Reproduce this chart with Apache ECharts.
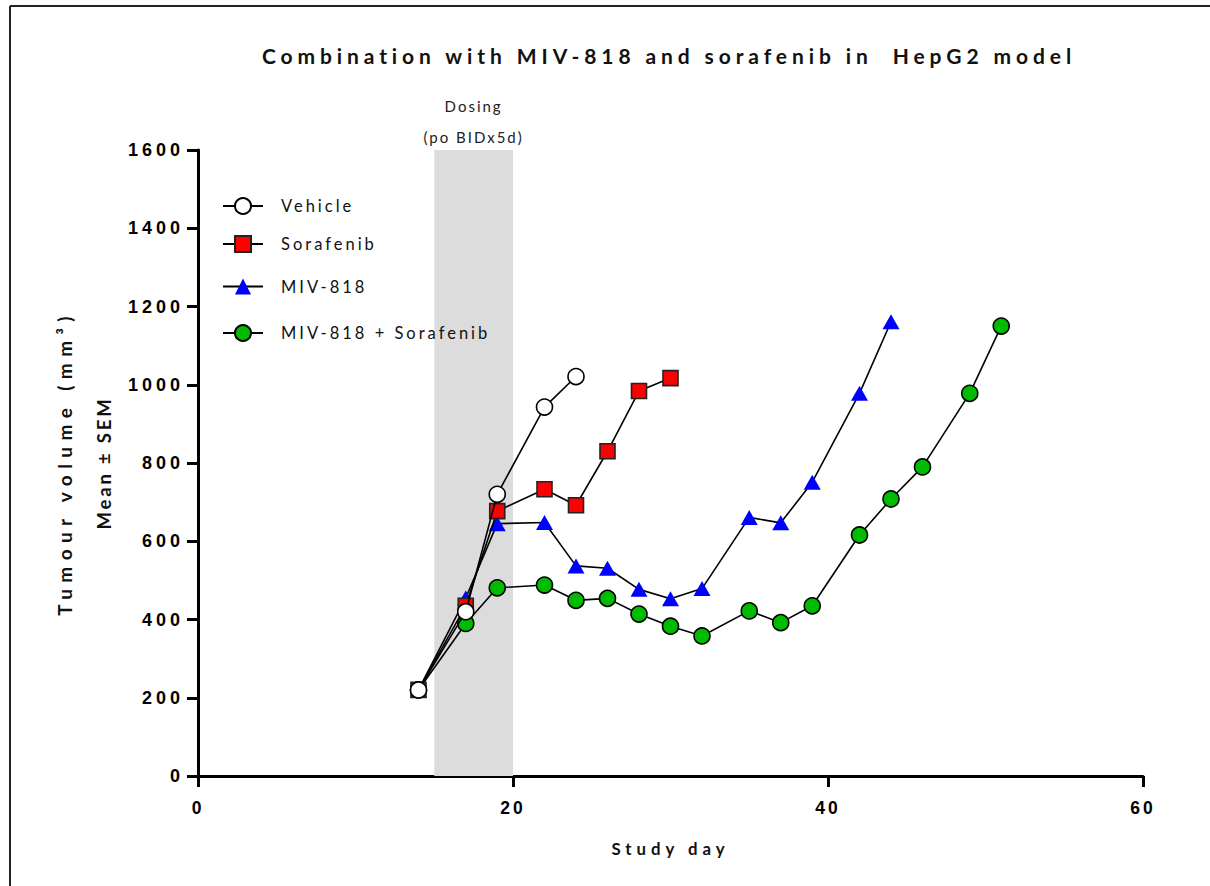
<!DOCTYPE html>
<html><head><meta charset="utf-8">
<script src="https://cdn.jsdelivr.net/npm/echarts@6/dist/echarts.min.js"></script>
<style>
html,body{margin:0;padding:0;background:#fff;}
#chart{width:1210px;height:886px;}
#chart text{white-space:pre;}
#chart text[style*="21px"]{letter-spacing:4.9px;}
#chart text[style*="18px"]{letter-spacing:4px;}
#chart text[style*="17.5px"]{letter-spacing:3px;}
#chart text[style*="16.8px"]{letter-spacing:5px;}
#chart text[style*="19px"]{letter-spacing:6.4px;}
#chart text[style*="18.5px"]{letter-spacing:2.8px;}
#chart text[style*="16.5px"]{letter-spacing:3px;}
#chart text[style*="15px"]{letter-spacing:2px;}
</style></head>
<body><div id="chart"></div>
<script>
// ---- data ----
const seriesNames = ['Vehicle', 'Sorafenib', 'MIV-818', 'MIV-818 + Sorafenib'];
const vehicleDays = [14, 17, 19, 22, 24];
const vehicleVals = [220, 420, 720, 943, 1021];
const sorafenibDays = [14, 17, 19, 22, 24, 26, 28, 30];
const sorafenibVals = [220, 435, 677, 733, 692, 830, 984, 1017];
const mivDays = [14, 17, 19, 22, 24, 26, 28, 30, 32, 35, 37, 39, 42, 44];
const mivVals = [220, 455, 645, 648, 537, 531, 477, 453, 479, 661, 647, 751, 978, 1161];
const comboDays = [14, 17, 19, 22, 24, 26, 28, 30, 32, 35, 37, 39, 42, 44, 46, 49, 51];
const comboVals = [220, 390, 481, 488, 449, 454, 414, 383, 358, 422, 392, 435, 616, 708, 790, 978, 1150];
const dosingWindow = [15, 20];
const xTickRange = [0, 60, 20];
const yTickRange = [0, 1600, 200];

const pair = (d, v) => d.map((x, i) => [x, v[i]]);

const chart = echarts.init(document.getElementById('chart'), null, {renderer: 'svg'});

const lineStyle = {color: '#000', width: 1.6};
const textBase = {fontFamily: 'Lato', color: '#111'};

function legendFor(name, top) {
  return {
    data: [name], left: 222, top: top, orient: 'horizontal', padding: 0,
    itemWidth: 40, itemHeight: 20, selectedMode: false,
    textStyle: Object.assign({}, textBase, {fontSize: 16.5, padding: [0, 0, 0, 13]})
  };
}

const option = {
  backgroundColor: '#fff',
  animation: false,
  title: {
    text: 'Combination with MIV-818 and sorafenib in  HepG2 model',
    left: 664, top: 40, textAlign: 'center',
    textStyle: Object.assign({}, textBase, {fontSize: 21, fontWeight: 'bold'})
  },
  graphic: [
    {type: 'line', shape: {x1: 10, y1: 6, x2: 1210, y2: 6}, style: {stroke: '#222', lineWidth: 2}},
    {type: 'line', shape: {x1: 10, y1: 6, x2: 10, y2: 886}, style: {stroke: '#222', lineWidth: 2}}
  ],
  legend: [
    legendFor(seriesNames[0], 197),
    legendFor(seriesNames[1], 235),
    legendFor(seriesNames[2], 278),
    legendFor(seriesNames[3], 324)
  ],
  grid: {left: 198, right: 67, top: 150, bottom: 110},
  xAxis: {
    type: 'value', min: xTickRange[0], max: xTickRange[1], interval: xTickRange[2],
    splitLine: {show: false},
    axisLine: {lineStyle: {color: '#000', width: 3}},
    axisTick: {length: 11, lineStyle: {color: '#000', width: 3}},
    axisLabel: {margin: 23, fontFamily: 'Liberation Sans Narrow, Liberation Sans', fontWeight: 'bold', fontSize: 17.5, color: '#000',
      formatter: v => String(v)},
    name: 'Study day', nameLocation: 'middle', nameGap: 64,
    nameTextStyle: Object.assign({}, textBase, {fontSize: 16.8, fontWeight: 'bold'})
  },
  yAxis: {
    type: 'value', min: yTickRange[0], max: yTickRange[1], interval: yTickRange[2],
    splitLine: {show: false},
    axisLine: {show: true, lineStyle: {color: '#000', width: 3}},
    axisTick: {show: true, length: 11, lineStyle: {color: '#000', width: 3}},
    axisLabel: {margin: 14, fontFamily: 'Liberation Sans', fontWeight: 'bold', fontSize: 18, color: '#000',
      formatter: v => String(v)},
    name: '{a|Tumour volume (mm³)}\n{b|Mean ± SEM}',
    nameLocation: 'middle', nameGap: 74, nameRotate: 90,
    nameTextStyle: {
      rich: {
        a: {fontFamily: 'Lato', fontWeight: 'bold', fontSize: 19, lineHeight: 40, color: '#111', align: 'center'},
        b: {fontFamily: 'Lato', fontWeight: 'bold', fontSize: 18.5, lineHeight: 40, color: '#111', align: 'center'}
      }
    }
  },
  series: [
    {
      name: seriesNames[3], type: 'line', z: 3, data: pair(comboDays, comboVals),
      symbol: 'circle', symbolSize: 16, lineStyle: lineStyle,
      itemStyle: {color: '#00bb00', borderColor: '#000', borderWidth: 1.6},
      markArea: {
        silent: true, z: 1,
        itemStyle: {color: '#dcdcdc'},
        label: {show: true, position: 'top', distance: -2, formatter: 'Dosing\n(po BIDx5d)',
          fontFamily: 'Lato', fontSize: 15, lineHeight: 31, color: '#222'},
        data: [[{xAxis: dosingWindow[0]}, {xAxis: dosingWindow[1]}]]
      }
    },
    {
      name: seriesNames[2], type: 'line', z: 4, data: pair(mivDays, mivVals),
      symbol: 'triangle', symbolSize: [17, 15], lineStyle: lineStyle,
      itemStyle: {color: '#0000ff', borderWidth: 0}
    },
    {
      name: seriesNames[1], type: 'line', z: 5, data: pair(sorafenibDays, sorafenibVals),
      symbol: 'rect', symbolSize: 15, lineStyle: lineStyle,
      itemStyle: {color: '#ff0000', borderColor: '#222', borderWidth: 1.6}
    },
    {
      name: seriesNames[0], type: 'line', z: 6, data: pair(vehicleDays, vehicleVals),
      symbol: 'circle', symbolSize: 16, lineStyle: lineStyle,
      itemStyle: {color: '#ffffff', borderColor: '#000', borderWidth: 1.6}
    }
  ]
};
chart.setOption(option);
</script>
</body></html>
